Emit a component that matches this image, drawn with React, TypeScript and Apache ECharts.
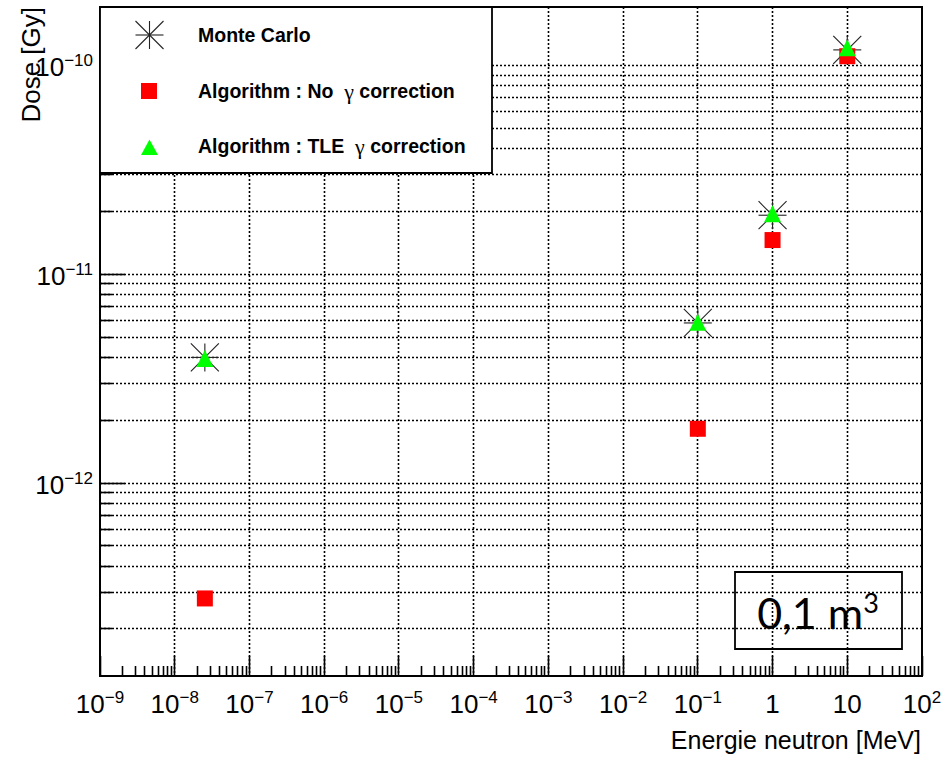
import React, { useEffect, useRef } from 'react';
import * as echarts from 'echarts';

// ---------------- data ----------------
const energyMeV = [2.53e-8, 0.1, 1, 10];
const doseMonteCarlo = [4.0e-12, 5.85e-12, 1.92e-11, 1.19e-10];
const doseNoGammaCorrection = [2.8e-13, 1.82e-12, 1.46e-11, 1.11e-10];
const doseTleGammaCorrection = [3.95e-12, 5.9e-12, 1.95e-11, 1.22e-10];

const legendLabels = ['Monte Carlo', 'Algorithm : No  ', ' correction', 'Algorithm : TLE  '];
const gammaSymbol = 'γ';

const xRange = [1e-9, 1e2];
const yRange = [1.19e-13, 1.91e-10];

const xMajorTicks = [1e-9, 1e-8, 1e-7, 1e-6, 1e-5, 1e-4, 1e-3, 1e-2, 1e-1, 1, 10, 100];
const xTickLabels = [
  '{b|10}{s|−9}', '{b|10}{s|−8}', '{b|10}{s|−7}', '{b|10}{s|−6}', '{b|10}{s|−5}',
  '{b|10}{s|−4}', '{b|10}{s|−3}', '{b|10}{s|−2}', '{b|10}{s|−1}', '{b|1}', '{b|10}', '{b|10}{s|2}',
];
const yMajorTicks = [1e-12, 1e-11, 1e-10];
const yTickLabels = ['{b|10}{s|−12}', '{b|10}{s|−11}', '{b|10}{s|−10}'];

const xAxisTitle = 'Energie neutron [MeV]';
const yAxisTitle = 'Dose [Gy]';
const volumeText = '0,1 m';
const volumeExponent = '3';

// minor ticks (2..9 x 10^k) inside a range
function minorTicks(range: number[]): number[] {
  const out: number[] = [];
  const k0 = Math.floor(Math.log10(range[0]));
  const k1 = Math.ceil(Math.log10(range[1]));
  for (let k = k0; k <= k1; k++) {
    for (let m = 2; m <= 9; m++) {
      const v = m * Math.pow(10, k);
      if (v >= range[0] && v <= range[1]) out.push(v);
    }
  }
  return out;
}

const FONT = '"Liberation Sans", Arial, sans-serif';
const crisp = (v: number) => Math.round(v - 0.5) + 0.5;

export default function App() {
  const ref = useRef<HTMLDivElement>(null);

  useEffect(() => {
    if (!ref.current) return;
    const chart = echarts.init(ref.current, undefined, { renderer: 'svg' });
    const xMinor = minorTicks(xRange);
    const yMinor = minorTicks(yRange);

    const labelRich = {
      b: { fontSize: 26, fontFamily: FONT, lineHeight: 30, fill: '#000', color: '#000', verticalAlign: 'middle' },
      s: { fontSize: 17, fontFamily: FONT, lineHeight: 17, fill: '#000', color: '#000', verticalAlign: 'top' },
    };

    const renderFrame = (_params: any, api: any) => {
      const children: any[] = [];
      const X = (v: number) => api.coord([v, yRange[0]])[0];
      const Y = (v: number) => api.coord([xRange[0], v])[1];
      const left = X(xRange[0]);
      const right = X(xRange[1]);
      const top = Y(yRange[1]);
      const bottom = Y(yRange[0]);
      const dash = { stroke: '#000', lineWidth: 1.6, lineDash: [2, 2], fill: null };
      const solid = { stroke: '#000', lineWidth: 1.6, fill: null };

      // horizontal grid lines at every y tick
      [...yMinor, ...yMajorTicks].forEach((v) => {
        const y = crisp(Y(v));
        children.push({ type: 'line', shape: { x1: left, y1: y, x2: right, y2: y }, style: dash });
      });
      // vertical grid lines at decades
      xMajorTicks.slice(1, -1).forEach((v) => {
        const x = crisp(X(v));
        children.push({ type: 'line', shape: { x1: x, y1: top, x2: x, y2: bottom }, style: dash });
      });
      // y ticks
      yMajorTicks.forEach((v) => {
        const y = crisp(Y(v));
        children.push({ type: 'line', shape: { x1: left, y1: y, x2: left + 25, y2: y }, style: solid });
      });
      yMinor.forEach((v) => {
        const y = crisp(Y(v));
        children.push({ type: 'line', shape: { x1: left, y1: y, x2: left + 12, y2: y }, style: solid });
      });
      // x ticks
      xMajorTicks.forEach((v) => {
        const x = crisp(X(v));
        children.push({ type: 'line', shape: { x1: x, y1: bottom, x2: x, y2: bottom - 20 }, style: solid });
      });
      xMinor.forEach((v) => {
        const x = crisp(X(v));
        children.push({ type: 'line', shape: { x1: x, y1: bottom, x2: x, y2: bottom - 10 }, style: solid });
      });
      // x tick labels
      xMajorTicks.forEach((v, i) => {
        children.push({
          type: 'text',
          x: X(v),
          y: bottom + 28,
          style: {
            text: xTickLabels[i],
            rich: labelRich,
            textAlign: 'center',
            textVerticalAlign: 'middle',
            align: 'center',
            verticalAlign: 'middle',
            fill: '#000',
          },
        });
      });
      // y tick labels
      yMajorTicks.forEach((v, i) => {
        children.push({
          type: 'text',
          x: left - 7,
          y: Y(v) + 1.5,
          style: {
            text: yTickLabels[i],
            rich: labelRich,
            textAlign: 'right',
            textVerticalAlign: 'middle',
            align: 'right',
            verticalAlign: 'middle',
            fill: '#000',
          },
        });
      });
      return { type: 'group', children };
    };

    const starLines = (cx: number, cy: number, r: number) => {
      const st = { stroke: '#222', lineWidth: 1.1, fill: null };
      return [
        { type: 'line', shape: { x1: cx - r, y1: cy, x2: cx + r, y2: cy }, style: st },
        { type: 'line', shape: { x1: cx, y1: cy - r, x2: cx, y2: cy + r }, style: st },
        { type: 'line', shape: { x1: cx - r, y1: cy - r, x2: cx + r, y2: cy + r }, style: st },
        { type: 'line', shape: { x1: cx - r, y1: cy + r, x2: cx + r, y2: cy - r }, style: st },
      ];
    };

    const renderStar = (_params: any, api: any) => {
      const p = api.coord([api.value(0), api.value(1)]);
      return { type: 'group', children: starLines(p[0], p[1], 14) };
    };

    const legendZ = 100;
    const legendText = (y: number, text: string) => ({
      type: 'text',
      z: legendZ + 1,
      x: 198,
      y,
      style: {
        text,
        rich: {
          t: { fontSize: 19.5, fontWeight: 'bold', fontFamily: FONT, fill: '#000', color: '#000' },
          g: { fontSize: 22, fontFamily: '"Liberation Serif", serif', fill: '#000', color: '#000' },
        },
        font: `bold 19.5px ${FONT}`,
        textAlign: 'left',
        textVerticalAlign: 'middle',
        align: 'left',
        verticalAlign: 'middle',
        fill: '#000',
      },
    });

    const option: any = {
      animation: false,
      backgroundColor: '#fff',
      grid: {
        left: 100,
        right: 23,
        top: 7,
        bottom: 82,
        show: true,
        borderColor: '#000',
        borderWidth: 2,
        backgroundColor: 'transparent',
      },
      xAxis: {
        type: 'log',
        logBase: 10,
        min: xRange[0],
        max: xRange[1],
        show: false,
      },
      yAxis: {
        type: 'log',
        logBase: 10,
        min: yRange[0],
        max: yRange[1],
        show: false,
      },
      series: [
        {
          type: 'custom',
          name: 'frame',
          silent: true,
          clip: false,
          z: 1,
          data: [[1e-3, 1e-11]],
          renderItem: renderFrame,
        },
        {
          type: 'custom',
          name: legendLabels[0],
          silent: true,
          z: 3,
          data: energyMeV.map((e, i) => [e, doseMonteCarlo[i]]),
          renderItem: renderStar,
        },
        {
          type: 'scatter',
          name: 'Algorithm : No γ correction',
          silent: true,
          z: 4,
          symbol: 'rect',
          symbolSize: 16,
          itemStyle: { color: '#ff0000', opacity: 1 },
          data: energyMeV.map((e, i) => [e, doseNoGammaCorrection[i]]),
        },
        {
          type: 'scatter',
          name: 'Algorithm : TLE γ correction',
          silent: true,
          z: 5,
          symbol: 'triangle',
          symbolSize: 17,
          itemStyle: { color: '#00ff00', opacity: 1 },
          data: energyMeV.map((e, i) => [e, doseTleGammaCorrection[i]]),
        },
      ],
      graphic: [
        // legend box
        {
          type: 'rect',
          z: legendZ,
          shape: { x: 100, y: 7, width: 392, height: 166 },
          style: { fill: '#fff', stroke: '#000', lineWidth: 1.8 },
        },
        { type: 'group', z: legendZ + 1, children: starLines(149.5, 35, 14).map((c) => ({ ...c, z: legendZ + 1 })) },
        {
          type: 'rect',
          z: legendZ + 1,
          shape: { x: 141, y: 83, width: 16, height: 16 },
          style: { fill: '#ff0000' },
        },
        {
          type: 'polygon',
          z: legendZ + 1,
          shape: { points: [[149.5, 139.5], [141, 155], [158, 155]] },
          style: { fill: '#00ff00' },
        },
        legendText(35, `{t|${legendLabels[0]}}`),
        legendText(91, `{t|${legendLabels[1]}}{g|${gammaSymbol}}{t|${legendLabels[2]}}`),
        legendText(146, `{t|${legendLabels[3]}}{g|${gammaSymbol}}{t|${legendLabels[2]}}`),
        // volume box
        {
          type: 'rect',
          z: 50,
          shape: { x: 735, y: 572, width: 167, height: 77 },
          style: { fill: 'transparent', stroke: '#000', lineWidth: 1.8 },
        },
        {
          type: 'text',
          z: 51,
          x: 818,
          y: 612,
          style: {
            text: `{n|${volumeText}}{s|${volumeExponent}}`,
            rich: {
              n: { fontSize: 43, fontFamily: 'Lato, "Open Sans", sans-serif', lineHeight: 46, fill: '#000', color: '#000', verticalAlign: 'middle' },
              s: { fontSize: 27, fontFamily: 'Lato, "Open Sans", sans-serif', lineHeight: 27, fill: '#000', color: '#000', verticalAlign: 'top' },
            },
            textAlign: 'center',
            textVerticalAlign: 'middle',
            align: 'center',
            verticalAlign: 'middle',
            fill: '#000',
          },
        },
        // axis titles
        {
          type: 'text',
          x: 921,
          y: 740,
          style: {
            text: xAxisTitle,
            font: `25px ${FONT}`,
            textAlign: 'right',
            textVerticalAlign: 'middle',
            align: 'right',
            verticalAlign: 'middle',
            fill: '#000',
          },
        },
        {
          type: 'text',
          x: 31,
          y: 7,
          rotation: Math.PI / 2,
          style: {
            text: yAxisTitle,
            font: `26px ${FONT}`,
            textAlign: 'right',
            textVerticalAlign: 'middle',
            align: 'right',
            verticalAlign: 'middle',
            fill: '#000',
          },
        },
      ],
    };

    chart.setOption(option);
    return () => chart.dispose();
  }, []);

  return (
    <div
      ref={ref}
      style={{ position: 'fixed', left: 0, top: 0, width: 945, height: 758, background: '#fff' }}
    />
  );
}
